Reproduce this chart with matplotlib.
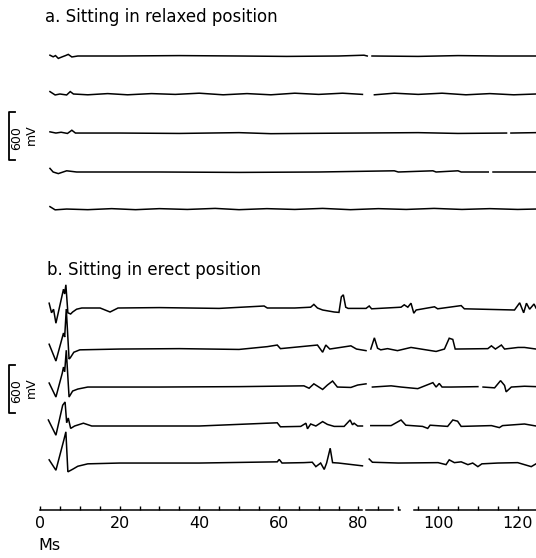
import numpy as np
import matplotlib

matplotlib.use("Agg")
import matplotlib.pyplot as plt

nan = np.nan

# a. sitting relaxed -- time (ms), deflection from baseline (mV)
a1_t = [2.5, 3.3, 3.9, 4.6, 5.6, 6.4, 7.1, 8.0, 9.5, 20, 35, 50, 62, 75, 81.4, 82.2, 82.6, 83.4, 95, 105, 115, 124.6]
a1_v = [10, -10, 5, -30, -10, 5, 20, -12, 0, 0, 5, 0, -5, 0, 10, 0, nan, 0, -5, 5, 0, 0]

a2_t = [2.5, 3.8, 5.0, 6.7, 7.6, 8.4, 12, 17, 22, 28, 34, 40, 46, 52, 58, 64, 70, 76, 81, 82.6, 84, 89, 95, 101, 107, 113, 119, 124.6]
a2_v = [30, -12, 0, -12, 30, 0, -10, 5, -10, 5, -5, 10, -10, 5, -10, 10, -5, 10, -5, nan, -10, 10, -5, 10, -10, 5, -10, 0]

a3_t = [2.5, 4.0, 5.3, 6.9, 8.0, 8.9, 20, 35, 50, 58, 65, 80, 95, 105, 117.2, 117.6, 118.3, 124.6]
a3_v = [15, 0, 10, -5, 35, 0, 0, -5, 5, -8, -5, 0, 5, -5, 0, nan, 0, 5]

a4_t = [2.5, 3.3, 4.6, 6.7, 9.2, 30, 50, 70, 89, 90, 98.7, 99.5, 105, 105.8, 112.6, 113.2, 113.8, 124.6]
a4_v = [45, 0, -20, 15, 0, 0, -5, 0, 15, 0, 15, 0, 15, 0, 0, nan, 0, 0]

a5_t = [2.5, 3.8, 6.7, 12, 18, 24, 30, 37, 44, 50, 57, 64, 71, 78, 85, 92, 99, 106, 113, 120, 124.6]
a5_v = [30, -10, 0, -8, 5, -8, 5, -5, 8, -8, 5, -5, 8, -8, 5, -5, 8, -5, 5, -5, 0]

# b. sitting erect
b1_t = [2.3, 2.9, 3.4, 4.0, 5.9, 6.2, 6.5, 7.0, 7.7, 8.2, 9.2, 10.5, 15.1, 17.6, 19.6, 30, 45,
        56.3, 57.1, 64, 68.0, 68.8, 69.7, 71.0, 73.9, 75.1, 75.7, 76.2, 76.8, 77.4, 81.9, 82.7,
        83.3, 90.7, 91.5, 92.4, 93.2, 93.9, 94.5, 99.1, 99.9, 105.8, 106.6, 119.2, 120.5, 121.5,
        122.2, 123.0, 124.1, 124.6]
b1_v = [60, -60, -15, -190, 235, 175, 290, -60, -75, -50, -15, 0, 0, -50, 0, 5, -5,
        25, 0, 0, 10, 45, 0, -25, -50, -55, 140, 165, 10, -5, -5, 25,
        -10, 10, 40, 10, 60, -65, -25, 15, -10, 30, -10, -25, 65, -60,
        60, -15, 50, 0]

b2_t = [2.3, 4.0, 5.9, 6.2, 6.6, 7.3, 7.6, 8.5, 10, 20, 35, 50, 57.1, 59.6, 60.4, 69.7, 71.0,
        71.8, 72.8, 78.1, 79.5, 81.9, 82.5, 83.1, 84.0, 84.8, 85.6, 87.3, 89.8, 93.2, 95.7,
        99.5, 101.6, 102.8, 103.7, 104.3, 112.5, 113.4, 114.4, 115.9, 116.7, 120.1, 121.7, 124.6]
b2_v = [60, -150, 200, 150, 500, -125, -110, -40, -10, 0, 5, -5, 30, 50, 5, 50, -40,
        50, 0, 40, 0, -20, nan, 0, 140, 10, -10, 5, -20, 20, 0,
        -30, 0, 135, 120, 0, 5, 40, 0, 50, 0, 20, 20, 0]

b3_t = [2.3, 4.0, 5.6, 5.9, 6.2, 6.6, 7.3, 8.2, 9.5, 12, 30, 50, 66.3, 67.6, 68.8, 71.0, 72.2,
        73.5, 74.7, 78.1, 79.8, 81.9, 82.6, 83.5, 88.2, 90.7, 94.9, 98.7, 99.5, 100.3, 101,
        103.3, 110.0, 110.6, 111.3, 114.2, 115.7, 116.7, 117.1, 118.4, 121.7, 124.6]
b3_v = [50, -125, 175, 250, 190, 460, -125, -50, -25, 0, 0, 5, 15, -15, 40, -30, 25,
        75, 0, -5, 25, 40, nan, 0, 15, 0, -20, 55, 0, 45, 0,
        0, 5, nan, 0, -10, 80, 20, -60, 0, 10, 5]

b4_t = [2.1, 4.0, 5.7, 6.3, 6.7, 7.1, 7.7, 8.7, 10.9, 13, 40, 59.6, 60.4, 65.5, 66.8, 67.2,
        68.0, 69.3, 71.0, 72.2, 73.9, 76.4, 77.9, 78.5, 78.9, 79.8, 81.0, 82.0, 83.1, 88.2,
        90.7, 91.9, 96.1, 97.4, 98.0, 102.4, 103.7, 104.9, 105.8, 113.4, 115.4, 116.2, 121.7, 124.6]
b4_v = [75, -115, 260, 300, 40, 100, -30, 0, 35, 0, 0, 40, -10, -5, 35, -35,
        25, 0, 55, 20, -5, -5, 75, 15, 35, 0, 0, nan, 5, 5,
        75, 10, -5, -30, 10, -5, 75, 60, -5, 5, -20, 5, 25, 0]

b5_t = [2.3, 4.0, 6.0, 6.5, 7.0, 8.3, 9.5, 12, 20, 40, 59.6, 60.1, 60.8, 66.3, 68.4, 69.3,
        70.5, 71.4, 72.0, 72.9, 73.5, 75, 81.0, 81.8, 82.7, 83.5, 90, 100, 102.0, 102.8, 104.1,
        105.8, 107.5, 108.7, 110.0, 111, 115, 120, 123.4, 124.6]
b5_v = [40, -90, 290, 390, -110, -75, -40, -10, 0, 0, 15, 45, 0, 5, 10, -45,
        0, -80, 0, 185, 5, 0, -35, nan, 50, 10, 0, 5, -20, 40, 5,
        15, -20, 0, -45, -10, 0, 5, -45, -10]

traces_a = [(a1_t, a1_v), (a2_t, a2_v), (a3_t, a3_v), (a4_t, a4_v), (a5_t, a5_v)]
traces_b = [(b1_t, b1_v), (b2_t, b2_v), (b3_t, b3_v), (b4_t, b4_v), (b5_t, b5_v)]

# vertical stacking of the traces (mV above the time axis)
offsets_a = [5675, 5200, 4712, 4225, 3762]
offsets_b = [2525, 2012, 1537, 1050, 587]

scale_mv = 600
tick_values = [0, 20, 40, 60, 80, 100, 120]
# time axis is broken in the original
axis_segments = [(0, 81.0), (81.9, 88.6), (90.1, 90.5), (93.9, 124.6)]

fig = plt.figure(figsize=(5.36, 5.58), dpi=100)
W, H = 536, 558
ax = fig.add_axes([40 / W, 48 / H, 496 / W, 480 / H])
ax.set_xlim(0, 124.6)
ax.set_ylim(0, 6000)

for (t, v), off in zip(traces_a + traces_b, offsets_a + offsets_b):
    ax.plot(t, np.array(v) + off, color="black", lw=1.1, solid_joinstyle="miter")

for x0, x1 in axis_segments:
    ax.plot([x0, x1], [0, 0], color="black", lw=1.1, clip_on=False)

for s in ax.spines.values():
    s.set_visible(False)
ax.set_yticks([])
ax.set_xticks(tick_values)
ax.set_xticks(np.arange(0, 125, 5), minor=True)
ax.tick_params(axis="x", which="both", direction="in", length=3, width=1, pad=4,
               labelsize=11.5)

# 600 mV scale brackets
for y0 in [4375, 1212]:
    ax.plot([-6.3, -7.8, -7.8, -6.3], [y0, y0, y0 + scale_mv, y0 + scale_mv],
            color="black", lw=1.3, clip_on=False)
    ax.text(-5.8, y0 + scale_mv * 0.45, "600", rotation=90, ha="center", va="center",
            fontsize=9)
    ax.text(-2.1, y0 + scale_mv * 0.52, "mV", rotation=90, ha="center", va="center",
            fontsize=9)

fig.text(45 / W, 1 - 17 / H, "a. Sitting in relaxed position", fontsize=12,
         ha="left", va="center")
fig.text(47 / W, 1 - 270 / H, "b. Sitting in erect position", fontsize=12,
         ha="left", va="center")
fig.text(38 / W, 1 - 546 / H, "Ms", fontsize=11.5, ha="left", va="center")

fig.savefig("out.png", dpi=100)
